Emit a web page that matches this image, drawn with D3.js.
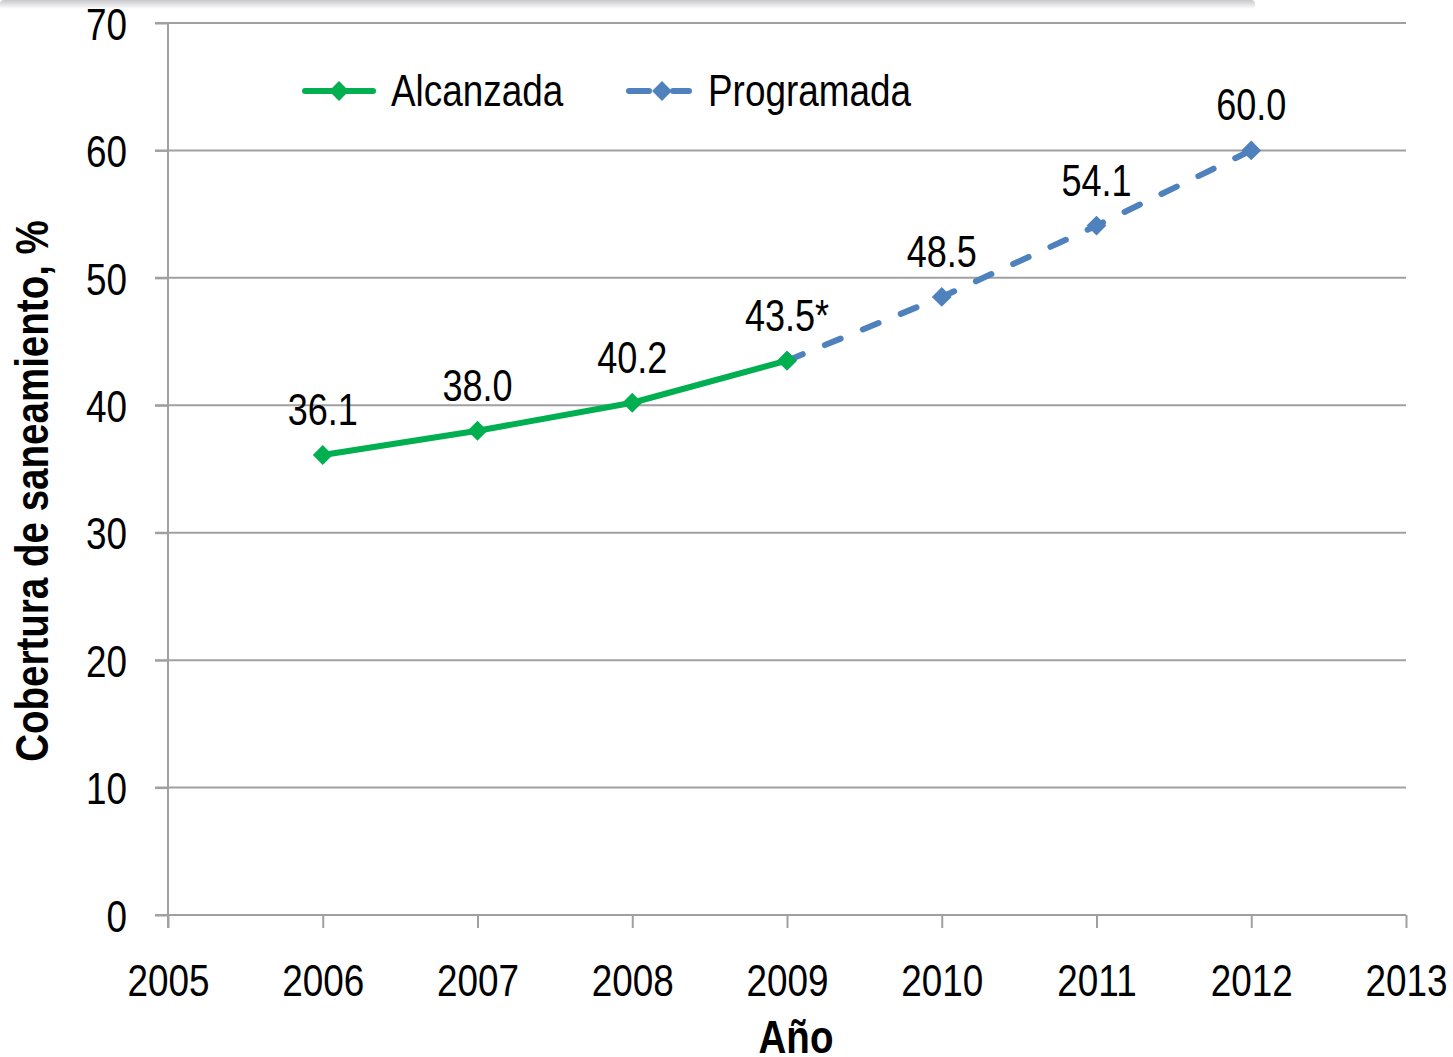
<!DOCTYPE html>
<html>
<head>
<meta charset="utf-8">
<script src="https://cdn.jsdelivr.net/npm/d3@7"></script>
<style>
  body { margin: 0; background: #fff; }
  svg text { font-family: 'Liberation Sans', Arial, sans-serif; fill: #000; }
</style>
</head>
<body>
<div id="chart"></div>
<script>
// data
var alcYears = [2006, 2007, 2008, 2009];
var alcValues = [36.1, 38.0, 40.2, 43.5];
var alcLabels = ["36.1", "38.0", "40.2", "43.5*"];

var progYears = [2009, 2010, 2011, 2012];
var progValues = [43.5, 48.5, 54.1, 60.0];
var progLabels = ["", "48.5", "54.1", "60.0"];

var xTicks = [2005, 2006, 2007, 2008, 2009, 2010, 2011, 2012, 2013];
var yTicks = [0, 10, 20, 30, 40, 50, 60, 70];

var green = "#00B050", blue = "#4F81BD";
var squeeze = 0.82; // no narrow font installed, so compress the regular one

// move x/y into a transform so the text can be squeezed horizontally
function narrow(sel) {
  sel.each(function() {
    var t = d3.select(this);
    var tx = +t.attr("x") || 0, ty = +t.attr("y") || 0;
    t.attr("x", 0).attr("y", 0)
      .attr("transform", "translate(" + tx + "," + ty + ") scale(" + squeeze + ",1)");
  });
}

var W = 1453, H = 1057;
var svg = d3.select("#chart").append("svg")
  .attr("width", W).attr("height", H);

// faint shadow band at the very top
var defs = svg.append("defs");
var grad = defs.append("linearGradient").attr("id", "topShade")
  .attr("x1", 0).attr("y1", 0).attr("x2", 0).attr("y2", 1);
grad.append("stop").attr("offset", "0%").attr("stop-color", "#c8c8cc");
grad.append("stop").attr("offset", "100%").attr("stop-color", "#ffffff");
svg.append("rect").attr("x", 0).attr("y", 0).attr("width", 1255).attr("height", 9)
  .attr("rx", 4).attr("fill", "url(#topShade)");

var x = d3.scaleLinear().domain([2005, 2013]).range([168, 1406]);
var y = d3.scaleLinear().domain([0, 70]).range([915, 23]);

// gridlines
svg.append("g").selectAll("line")
  .data(yTicks)
  .enter().append("line")
    .attr("x1", 155).attr("x2", 1406)
    .attr("y1", function(d) { return y(d); })
    .attr("y2", function(d) { return y(d); })
    .attr("stroke", "#a0a0a0").attr("stroke-width", 2);

// y axis
var yAxis = svg.append("g")
  .attr("transform", "translate(168,0)")
  .call(d3.axisLeft(y).tickValues(yTicks).tickSize(13).tickPadding(28).tickFormat(d3.format("d")));
yAxis.select(".domain").remove();
yAxis.selectAll(".tick line").attr("stroke", "#a0a0a0").attr("stroke-width", 2);
yAxis.selectAll(".tick text").style("font-size", "45px").attr("dy", "0.36em").call(narrow);
svg.append("line")
  .attr("x1", 168).attr("x2", 168).attr("y1", y(70)).attr("y2", y(0) + 13)
  .attr("stroke", "#a0a0a0").attr("stroke-width", 2);

// x axis
var xAxis = svg.append("g")
  .attr("transform", "translate(0," + y(0) + ")")
  .call(d3.axisBottom(x).tickValues(xTicks).tickSize(13).tickPadding(36).tickFormat(d3.format("d")));
xAxis.select(".domain").remove();
xAxis.selectAll(".tick line").attr("stroke", "#a0a0a0").attr("stroke-width", 2);
xAxis.selectAll(".tick text").style("font-size", "45px").call(narrow);

// axis titles
svg.append("text")
  .attr("x", 796).attr("y", 1053)
  .attr("text-anchor", "middle")
  .style("font-size", "47px").style("font-weight", "bold")
  .text("Año").call(narrow);

svg.append("text")
  .attr("transform", "translate(48,491) rotate(-90) scale(" + squeeze + ",1)")
  .attr("text-anchor", "middle")
  .style("font-size", "47px").style("font-weight", "bold")
  .text("Cobertura de saneamiento, %");

var line = d3.line()
  .x(function(d) { return x(d[0]); })
  .y(function(d) { return y(d[1]); });

var diamond = d3.symbol().type(d3.symbolDiamond2).size(250);

// programada (dashed)
var progData = d3.zip(progYears, progValues);
svg.append("path")
  .datum(progData)
  .attr("d", line)
  .attr("fill", "none").attr("stroke", blue).attr("stroke-width", 6)
  .attr("stroke-dasharray", "17,24").attr("stroke-linecap", "round");
svg.append("g").selectAll("path")
  .data(progData)
  .enter().append("path")
    .attr("transform", function(d) { return "translate(" + x(d[0]) + "," + y(d[1]) + ")"; })
    .attr("d", diamond).attr("fill", blue);

// alcanzada (solid)
var alcData = d3.zip(alcYears, alcValues);
svg.append("path")
  .datum(alcData)
  .attr("d", line)
  .attr("fill", "none").attr("stroke", green).attr("stroke-width", 6)
  .attr("stroke-linejoin", "round");
svg.append("g").selectAll("path")
  .data(alcData)
  .enter().append("path")
    .attr("transform", function(d) { return "translate(" + x(d[0]) + "," + y(d[1]) + ")"; })
    .attr("d", diamond).attr("fill", green);

// data labels
svg.append("g").selectAll("text")
  .data(d3.zip(alcYears, alcValues, alcLabels))
  .enter().append("text")
    .attr("x", function(d) { return x(d[0]); })
    .attr("y", function(d) { return y(d[1]) - 30; })
    .attr("text-anchor", "middle")
    .style("font-size", "44px")
    .text(function(d) { return d[2]; })
    .call(narrow);
svg.append("g").selectAll("text")
  .data(d3.zip(progYears, progValues, progLabels).filter(function(d) { return d[2] !== ""; }))
  .enter().append("text")
    .attr("x", function(d) { return x(d[0]); })
    .attr("y", function(d) { return y(d[1]) - 30; })
    .attr("text-anchor", "middle")
    .style("font-size", "44px")
    .text(function(d) { return d[2]; })
    .call(narrow);

// legend
var legend = svg.append("g");
legend.append("line").attr("x1", 305).attr("x2", 373).attr("y1", 91).attr("y2", 91)
  .attr("stroke", green).attr("stroke-width", 6).attr("stroke-linecap", "round");
legend.append("path").attr("transform", "translate(339,91)").attr("d", diamond).attr("fill", green);
legend.append("text").attr("x", 391).attr("y", 106).style("font-size", "45px").text("Alcanzada").call(narrow);

legend.append("line").attr("x1", 629).attr("x2", 689).attr("y1", 91).attr("y2", 91)
  .attr("stroke", blue).attr("stroke-width", 6).attr("stroke-linecap", "round")
  .attr("stroke-dasharray", "20,24");
legend.append("path").attr("transform", "translate(662,91)").attr("d", diamond).attr("fill", blue);
legend.append("text").attr("x", 708).attr("y", 106).style("font-size", "45px").text("Programada").call(narrow);
</script>
</body>
</html>
